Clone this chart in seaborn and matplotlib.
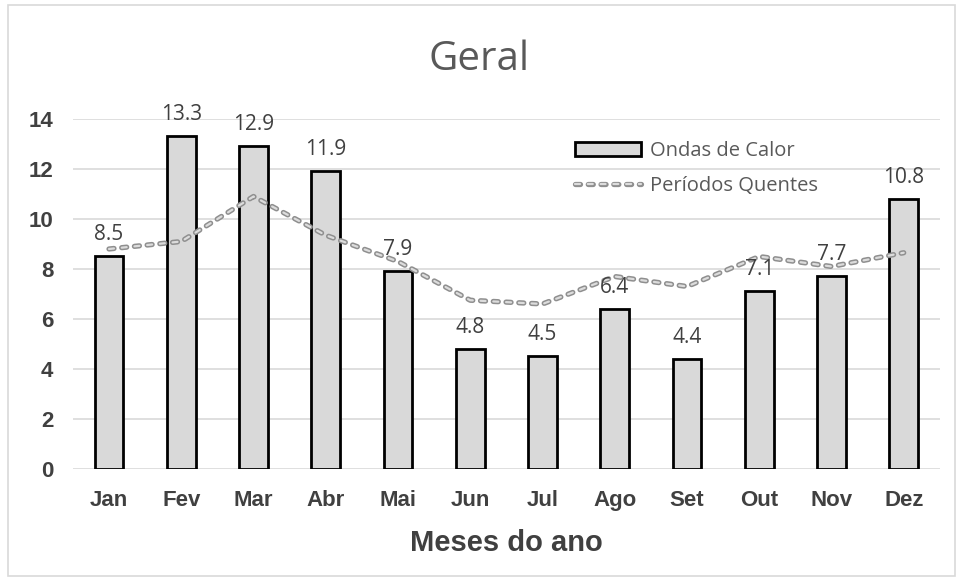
import matplotlib
matplotlib.use("Agg")
import matplotlib.pyplot as plt
import matplotlib.patheffects as pe
from matplotlib.patches import Patch, Rectangle
from matplotlib.lines import Line2D
import seaborn as sns

# --- data ---
meses = ["Jan", "Fev", "Mar", "Abr", "Mai", "Jun", "Jul", "Ago", "Set", "Out", "Nov", "Dez"]
ondas_calor = [8.5, 13.3, 12.9, 11.9, 7.9, 4.8, 4.5, 6.4, 4.4, 7.1, 7.7, 10.8]
periodos_quentes = [8.8, 9.1, 10.9, 9.35, 8.3, 6.75, 6.6, 7.7, 7.3, 8.5, 8.1, 8.65]
y_ticks = [0, 2, 4, 6, 8, 10, 12, 14]

sns.set_style("white")
plt.rcParams["font.family"] = ["Open Sans", "DejaVu Sans"]
plt.rcParams["lines.scale_dashes"] = False   # dash lengths in points

txt = "#595959"
bold_font = ["Liberation Sans", "DejaVu Sans"]

fig = plt.figure(figsize=(9.59, 5.79), dpi=100)
ax = fig.add_axes([0.076, 0.19, 0.904, 0.6045])

# bars
sns.barplot(x=meses, y=ondas_calor, color="#d9d9d9", edgecolor="black",
            linewidth=2, width=0.4, saturation=1, ax=ax, zorder=2)

# dashed "double" line: each dash is a light capsule with a grey outline
dash_pat = [3.6, 5.6]
dash_fx = [pe.Stroke(linewidth=3.8, foreground="#8f8f8f"), pe.Normal()]
sns.lineplot(x=meses, y=periodos_quentes, color="#dcdcdc", linewidth=1.6,
             ax=ax, zorder=3, sort=False)
ln = ax.lines[-1]
ln.set_dashes(dash_pat)
ln.set_dash_capstyle("round")
ln.set_path_effects(dash_fx)

# value labels above each bar
for i, v in enumerate(ondas_calor):
    ax.text(i, v + 0.45, f"{v}", ha="center", va="bottom",
            fontsize=15, color="#404040", zorder=4)

ax.set_ylim(0, 14)
ax.set_xlim(-0.5, len(meses) - 0.5)
ax.set_yticks(y_ticks)
ax.yaxis.grid(True, color="#d9d9d9", linewidth=1.2, zorder=0)
ax.set_axisbelow(True)
for s in ax.spines.values():
    s.set_visible(False)
ax.tick_params(axis="both", length=0, labelsize=16, labelcolor="#404040")
ax.tick_params(axis="y", pad=14)
ax.tick_params(axis="x", pad=15)
for lab in ax.get_xticklabels() + ax.get_yticklabels():
    lab.set_fontweight("bold")
    lab.set_family(bold_font)

ax.set_xlabel("Meses do ano", fontsize=21, fontweight="bold", color="#404040",
              family=bold_font, labelpad=13)
fig.text(0.5, 0.896, "Geral", ha="center", va="center", fontsize=29, color=txt)

# legend
handles = [
    Patch(facecolor="#d9d9d9", edgecolor="black", linewidth=2, label="Ondas de Calor"),
    Line2D([0], [0], color="#dcdcdc", linewidth=1.6, dashes=dash_pat,
           dash_capstyle="round", path_effects=dash_fx, label="Períodos Quentes"),
]
leg = ax.legend(handles=handles, loc="upper left", bbox_to_anchor=(0.558, 0.99),
                frameon=False, fontsize=14.5, labelspacing=0.75, handlelength=3.3,
                handleheight=0.7, handletextpad=0.45)
for t in leg.get_texts():
    t.set_color(txt)

# outer chart border
fig.patches.append(Rectangle((0.008, 0.006), 0.988, 0.986, transform=fig.transFigure,
                             fill=False, edgecolor="#d9d9d9", linewidth=1.2))

fig.savefig("out.png", dpi=100)
